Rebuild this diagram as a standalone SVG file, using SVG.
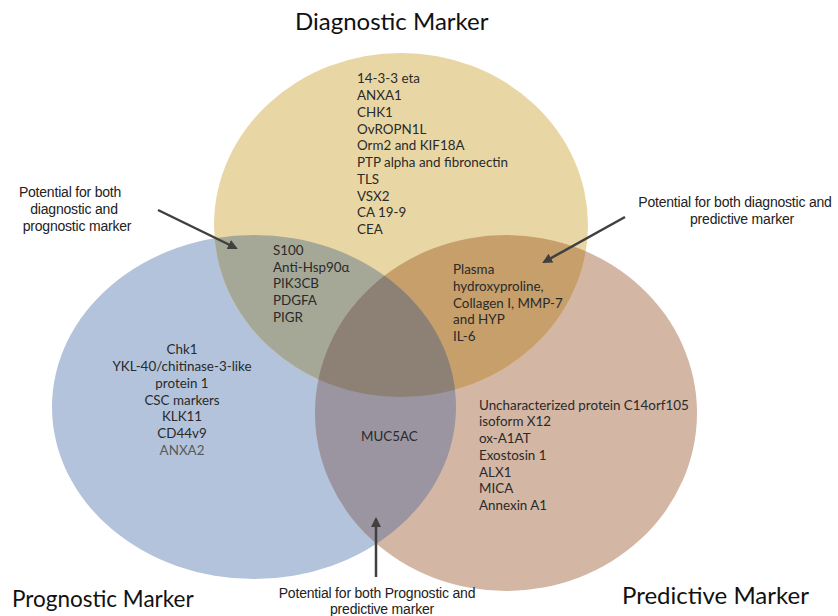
<svg xmlns="http://www.w3.org/2000/svg" width="838" height="616" viewBox="0 0 838 616">
<style>
.t{font-family:Lato,"Liberation Sans",sans-serif;font-size:13.4px;fill:#2a2a2a}
.c{text-anchor:middle}
.h{font-family:Lato,"Liberation Sans",sans-serif;font-size:24px;fill:#111}
.a{font-family:"Liberation Sans",Arial,sans-serif;font-size:14px;fill:#222;text-anchor:middle;letter-spacing:-0.2px}
.arr{stroke:#404040;stroke-width:2.5;fill:none;marker-end:url(#ah)}
</style>
<defs>
<marker id="ah" viewBox="0 0 10 10" refX="8" refY="5" markerWidth="4" markerHeight="4" orient="auto" markerUnits="strokeWidth">
<path d="M0,0 L10,5 L0,10 z" fill="#404040"/>
</marker>
<ellipse id="eT" cx="401" cy="225" rx="187" ry="172"/>
<ellipse id="eL" cx="254" cy="407" rx="202" ry="172"/>
<ellipse id="eR" cx="506" cy="413" rx="191" ry="178"/>
<clipPath id="cT"><use href="#eT"/></clipPath>
<clipPath id="cL"><use href="#eL"/></clipPath>
<clipPath id="cR"><use href="#eR"/></clipPath>
</defs>
<rect width="838" height="616" fill="#fff"/>
<g id="prognostic">
<use href="#eL" fill="#b3c3db"/>
</g>
<g id="predictive">
<use href="#eR" fill="#d3b6a3"/>
</g>
<g id="diagnostic">
<use href="#eT" fill="#e8d7a4"/>
</g>
<g id="overlaps">
<g clip-path="url(#cT)"><use href="#eL" fill="#a5a897"/></g>
<g clip-path="url(#cT)"><use href="#eR" fill="#c69f6b"/></g>
<g clip-path="url(#cL)"><use href="#eR" fill="#9a95a1"/></g>
<g clip-path="url(#cT)"><g clip-path="url(#cL)"><use href="#eR" fill="#8d8176"/></g></g>
</g>
<g id="diagnostic-text">
<text class="h" x="295" y="30">Diagnostic Marker</text>
<text class="t" x="357" y="83">14-3-3 eta</text>
<text class="t" x="357" y="100">ANXA1</text>
<text class="t" x="357" y="117">CHK1</text>
<text class="t" x="357" y="133.5">OvROPN1L</text>
<text class="t" x="357" y="150">Orm2 and KIF18A</text>
<text class="t" x="357" y="167">PTP alpha and fibronectin</text>
<text class="t" x="357" y="184">TLS</text>
<text class="t" x="357" y="200.5">VSX2</text>
<text class="t" x="357" y="217">CA 19-9</text>
<text class="t" x="357" y="234">CEA</text>
</g>
<g id="diag-prog-text">
<text class="t" x="273" y="254.5">S100</text>
<text class="t" x="273" y="271.5">Anti-Hsp90α</text>
<text class="t" x="273" y="288">PIK3CB</text>
<text class="t" x="273" y="305">PDGFA</text>
<text class="t" x="273" y="321.5">PIGR</text>
</g>
<g id="diag-pred-text">
<text class="t" x="453" y="274">Plasma</text>
<text class="t" x="453" y="291">hydroxyproline,</text>
<text class="t" x="453" y="307.5">Collagen I, MMP-7</text>
<text class="t" x="453" y="324">and HYP</text>
<text class="t" x="453" y="341">IL-6</text>
</g>
<g id="prognostic-text">
<text class="h" x="12" y="607" style="font-size:22.5px">Prognostic Marker</text>
<text class="t c" x="182" y="354">Chk1</text>
<text class="t c" x="182" y="371">YKL-40/chitinase-3-like</text>
<text class="t c" x="182" y="388">protein 1</text>
<text class="t c" x="182" y="404.5">CSC markers</text>
<text class="t c" x="182" y="421">KLK11</text>
<text class="t c" x="182" y="438">CD44v9</text>
<text class="t c" x="182" y="455" style="fill:#5a5a5a">ANXA2</text>
</g>
<g id="prog-pred-text">
<text class="t" x="361" y="440.5">MUC5AC</text>
</g>
<g id="predictive-text">
<text class="h" x="622" y="604">Predictive Marker</text>
<text class="t" x="479" y="409.5">Uncharacterized protein C14orf105</text>
<text class="t" x="479" y="426">isoform X12</text>
<text class="t" x="479" y="443">ox-A1AT</text>
<text class="t" x="479" y="459.5">Exostosin 1</text>
<text class="t" x="479" y="476.5">ALX1</text>
<text class="t" x="479" y="493">MICA</text>
<text class="t" x="479" y="510">Annexin A1</text>
</g>
<g id="annotations">
<text class="a" x="70" y="197">Potential for both</text>
<text class="a" x="74" y="214">diagnostic and</text>
<text class="a" x="77" y="231">prognostic marker</text>
<text class="a" x="735" y="207">Potential for both diagnostic and</text>
<text class="a" x="742" y="223.5">predictive marker</text>
<text class="a" x="377" y="598">Potential for both Prognostic and</text>
<text class="a" x="382" y="614">predictive marker</text>
</g>
<g id="connectors">
<line class="arr" x1="158" y1="210" x2="236" y2="248"/>
<line class="arr" x1="625" y1="217" x2="544" y2="262"/>
<line class="arr" x1="376" y1="577" x2="376" y2="519"/>
</g>
</svg>
